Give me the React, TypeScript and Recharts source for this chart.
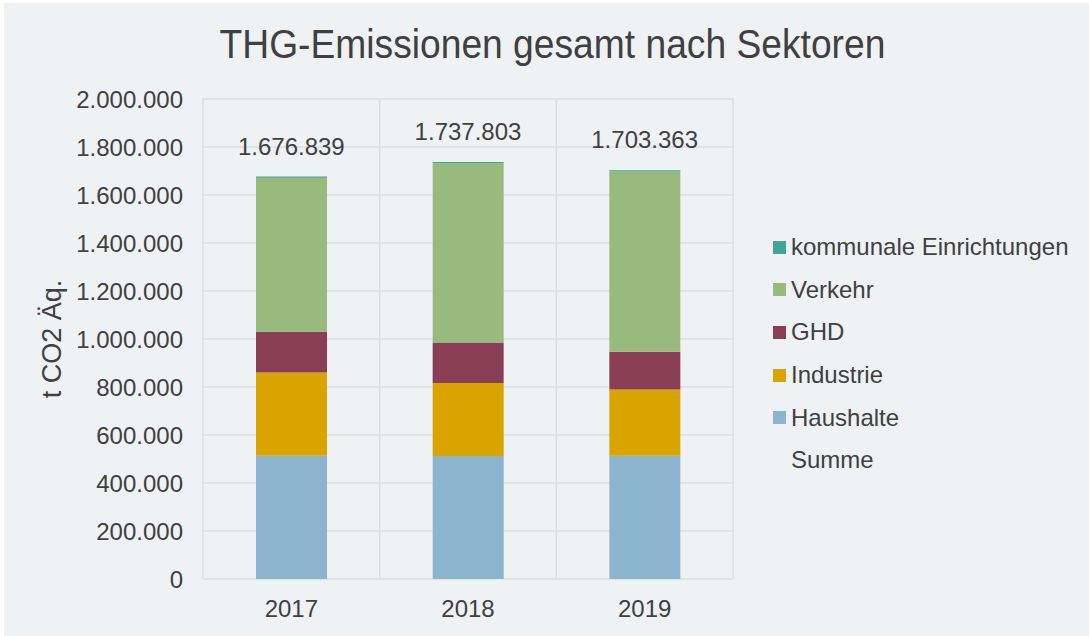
import React from 'react';
import { ComposedChart, Bar, Line, XAxis, YAxis, CartesianGrid, LabelList, Label } from 'recharts';

const years = ['2017', '2018', '2019'];
const haushalte = [514000, 512500, 514000];
const industrie = [346000, 304500, 276000];
const ghd = [170000, 168000, 157000];
const verkehr = [641839, 747803, 751363];
const kommunal = [5000, 5000, 5000];
const summe = [1676839, 1737803, 1703363];
const yTicks = [0, 200000, 400000, 600000, 800000, 1000000, 1200000, 1400000, 1600000, 1800000, 2000000];

const series = [
  { key: 'kommunal', name: 'kommunale Einrichtungen', color: '#40a595' },
  { key: 'verkehr', name: 'Verkehr', color: '#98bb7d' },
  { key: 'ghd', name: 'GHD', color: '#8a3e55' },
  { key: 'industrie', name: 'Industrie', color: '#d9a300' },
  { key: 'haushalte', name: 'Haushalte', color: '#8cb4cf' },
];

const data = years.map((year, i) => ({
  year,
  haushalte: haushalte[i],
  industrie: industrie[i],
  ghd: ghd[i],
  verkehr: verkehr[i],
  kommunal: kommunal[i],
  summe: summe[i],
}));

const fmt = (v: number) => String(Math.round(v)).replace(/\B(?=(\d{3})+(?!\d))/g, '.');

const textColor = '#404040';
const font = '"Liberation Sans", Arial, sans-serif';

export default function App() {
  const stackOrder = [...series].reverse();
  return (
    <div style={{ width: 1089, height: 636, background: '#ffffff', position: 'relative', fontFamily: font }}>
      <style>{`body{margin:0}`}</style>
      <div style={{ position: 'absolute', left: 4, top: 3, right: 0, bottom: 0, background: '#eef2f5' }} />
      <div
        style={{
          position: 'absolute',
          left: 8,
          width: 1089,
          top: 22,
          textAlign: 'center',
          fontSize: 40,
          color: textColor,
          transform: 'scaleX(0.93)',
          transformOrigin: '544px 0',
          whiteSpace: 'nowrap',
        }}
      >
        THG-Emissionen gesamt nach Sektoren
      </div>
      <div style={{ position: 'absolute', left: 0, top: 0 }}>
        <ComposedChart
          width={1089}
          height={636}
          data={data}
          margin={{ top: 99, right: 356, bottom: 0, left: 0 }}
          barCategoryGap="30%"
        >
          <CartesianGrid
            stroke="#dcdfe2"
            strokeWidth={1.5}
            verticalCoordinatesGenerator={({ offset }: any) =>
              [...years.map((_, i) => offset.left + (offset.width * i) / years.length), offset.left + offset.width]
            }
          />
          <XAxis
            dataKey="year"
            axisLine={false}
            tickLine={false}
            height={57}
            tickMargin={15}
            tick={{ fontSize: 24, fill: textColor, fontFamily: font }}
          />
          <YAxis
            domain={[0, 2000000]}
            ticks={yTicks}
            interval={0}
            width={203}
            axisLine={false}
            tickLine={false}
            tickMargin={14}
            tickFormatter={fmt}
            tick={{ fontSize: 24, fill: textColor, fontFamily: font }}
          >
            <Label
              content={({ viewBox }: any) => {
                const cx = viewBox.x + 52;
                const cy = viewBox.y + viewBox.height / 2;
                return (
                  <text
                    x={cx}
                    y={cy}
                    transform={`rotate(-90 ${cx} ${cy})`}
                    textAnchor="middle"
                    dominantBaseline="central"
                    fontSize={27}
                    fill={textColor}
                    fontFamily={font}
                  >
                    t CO2 Äq.
                  </text>
                );
              }}
            />
          </YAxis>
          {stackOrder.map((s) => (
            <Bar key={s.key} dataKey={s.key} name={s.name} stackId="a" fill={s.color} isAnimationActive={false} />
          ))}
          <Line
            dataKey="summe"
            stroke="none"
            dot={false}
            activeDot={false}
            legendType="none"
            isAnimationActive={false}
          >
            <LabelList
              dataKey="summe"
              position="top"
              offset={22}
              formatter={(v: any) => fmt(Number(v))}
              style={{ fontSize: 24, fill: textColor, fontFamily: font }}
            />
          </Line>
        </ComposedChart>
      </div>
      <div style={{ position: 'absolute', left: 773, top: 226 }}>
        {[...series, { key: 'summe', name: 'Summe', color: 'transparent' }].map((s) => (
          <div key={s.key} style={{ display: 'flex', alignItems: 'center', height: 42.6 }}>
            <span style={{ width: 13, height: 13, background: s.color, display: 'inline-block', marginRight: 5 }} />
            <span style={{ fontSize: 24, color: textColor, lineHeight: '28px' }}>{s.name}</span>
          </div>
        ))}
      </div>
    </div>
  );
}
